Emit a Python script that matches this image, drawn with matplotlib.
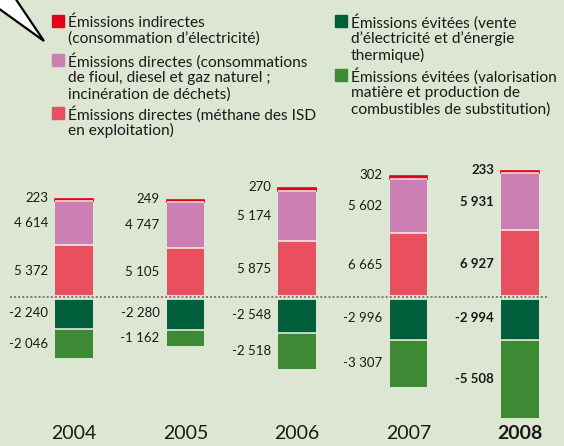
import numpy as np
import matplotlib.pyplot as plt

years = ["2004", "2005", "2006", "2007", "2008"]
methane = [5372, 5105, 5875, 6665, 6927]
direct = [4614, 4747, 5174, 5602, 5931]
indirect = [223, 249, 270, 302, 233]
avoided_elec = [-2240, -2280, -2548, -2996, -2994]
avoided_mat = [-2046, -1162, -2518, -3307, -5508]

legend_left = [
    ["Émissions indirectes", "(consommation d’électricité)"],
    ["Émissions directes (consommations", "de fioul, diesel et gaz naturel ;", "incinération de déchets)"],
    ["Émissions directes (méthane des ISD", "en exploitation)"],
]
legend_right = [
    ["Émissions évitées (vente", "d’électricité et d’énergie", "thermique)"],
    ["Émissions évitées (valorisation", "matière et production de", "combustibles de substitution)"],
]

bg = "#DDE6D2"
c_ind = "#E2001A"
c_dir = "#CC7FB3"
c_met = "#E8505F"
c_ael = "#005E3A"
c_amat = "#3E8934"
txt = "#1a1a1a"

plt.rcParams['font.family'] = ['Lato', 'DejaVu Sans']

fig = plt.figure(figsize=(5.64, 4.46), dpi=100)
fig.patch.set_facecolor(bg)
ax = fig.add_axes([0, 0, 1, 1])
ax.set_facecolor(bg)

# negative part is drawn on a stretched scale, as in the original
k = 104 / 70
fwd = lambda y: np.where(y < 0, y * k, y)
inv = lambda y: np.where(y < 0, y / k, y)
ax.set_yscale('function', functions=(fwd, inv))

x = np.arange(len(years))
w = 0.34
met = np.array(methane)
dr = np.array(direct)
ind = np.array(indirect)
ael = np.array(avoided_elec)
amat = np.array(avoided_mat)

ax.bar(x, met, w, color=c_met, lw=0)
ax.bar(x, dr, w, bottom=met, color=c_dir, lw=0)
ax.bar(x, ind, w, bottom=met + dr, color=c_ind, ec=c_ind, lw=1.2)
ax.bar(x, ael, w, color=c_ael, lw=0)
ax.bar(x, amat, w, bottom=ael, color=c_amat, lw=0)

# white separators between segments
for xi, a, b, c in zip(x, met, dr, ael):
    ax.hlines([a, a + b, c], xi - w / 2, xi + w / 2, color="#F4F4EC", lw=1.1, zorder=3)
ax.axhline(0, 0.018, 0.973, color=bg, lw=3.5, zorder=3)
ax.axhline(0, 0.018, 0.973, color="#7a7a7a", lw=1.4, ls=(0, (1, 1.1)), zorder=4)

off = 0.063
for i in range(len(years)):
    fw = 'bold' if i == len(years) - 1 else 'normal'
    def lab(v, yc):
        s = f"{v:,}".replace(",", " ")
        ax.text(x[i] - w / 2 - off, yc, s, ha='right', va='center',
                fontsize=9.5, color=txt, fontweight=fw)
    lab(methane[i], met[i] / 2)
    lab(direct[i], met[i] + dr[i] / 2)
    lab(indirect[i], met[i] + dr[i] + ind[i] + 100)
    lab(avoided_elec[i], ael[i] / 2)
    lab(avoided_mat[i], ael[i] + amat[i] / 2)
    ax.text(x[i], 0.028, years[i], ha='center', va='center',
            transform=ax.get_xaxis_transform(),
            fontsize=14, color=txt, fontweight=fw)

ax.set_xlim((0 - 74) / 111.5, (564 - 74) / 111.5)
ax.set_ylim(-10429, 30888)
ax.axis('off')

# legend and pointer, in pixel coordinates
lg = fig.add_axes([0, 0, 1, 1], facecolor='none')
lg.set_xlim(0, 564)
lg.set_ylim(446, 0)
lg.axis('off')
lg.fill([-2, 15, 44, -2], [-2, -2, 41, 8], facecolor='white', edgecolor='black',
        lw=1.6, joinstyle='miter')

def legend_col(items, colors, xs, tops):
    for lines, col, t in zip(items, colors, tops):
        lg.add_patch(plt.Rectangle((xs, t - 6), 12, 12, color=col))
        for j, line in enumerate(lines):
            lg.text(xs + 16, t + j * 16.3, line, ha='left', va='center_baseline',
                    fontsize=11.2, color=txt)

legend_col(legend_left, [c_ind, c_dir, c_met], 52, [21, 60, 113])
legend_col(legend_right, [c_ael, c_amat], 335, [21, 75])

fig.savefig("out.png", dpi=100, facecolor=bg)
